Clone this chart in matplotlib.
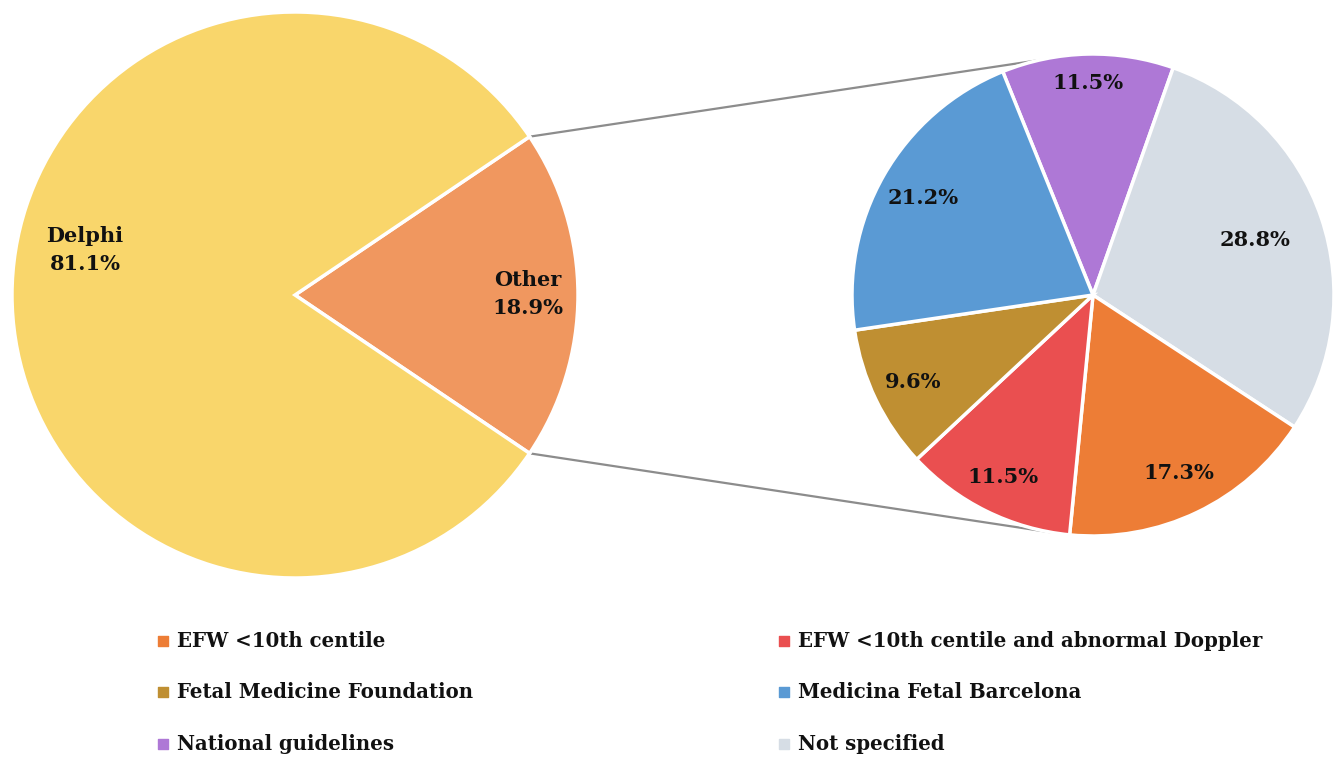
import matplotlib.pyplot as plt
import numpy as np

plt.rcParams['font.family'] = ['DejaVu Serif']
plt.rcParams['font.weight'] = 'bold'

# main pie
main_labels = ['Delphi', 'Other']
main_values = [81.1, 18.9]
main_colors = ['#F9D66B', '#F0975F']

# breakdown of "Other" (clockwise from top)
sub_labels = ['National guidelines', 'Not specified', 'EFW <10th centile',
              'EFW <10th centile and abnormal Doppler', 'Fetal Medicine Foundation',
              'Medicina Fetal Barcelona']
sub_values = [11.5, 28.8, 17.3, 11.5, 9.6, 21.2]
sub_colors = ['#AE78D6', '#D6DDE5', '#ED7D36', '#EA4F50', '#BF8F32', '#5A9AD4']

legend_order = ['EFW <10th centile', 'EFW <10th centile and abnormal Doppler',
                'Fetal Medicine Foundation', 'Medicina Fetal Barcelona',
                'National guidelines', 'Not specified']

W, H = 1340, 761
fig = plt.figure(figsize=(W / 100, H / 100), dpi=100)
ax = fig.add_axes([0, 0, 1, 1])

c1, r1 = (295, 466), 283
c2, r2 = (1093, 466), 241
FS = 15

other_ang = main_values[1] / sum(main_values) * 360
w1, _ = ax.pie(main_values[::-1], colors=main_colors[::-1], center=c1, radius=r1,
               startangle=other_ang / 2, counterclock=False,
               wedgeprops=dict(edgecolor='white', linewidth=2.5))

w2, _ = ax.pie(sub_values, colors=sub_colors, center=c2, radius=r2,
               startangle=112, counterclock=False,
               wedgeprops=dict(edgecolor='white', linewidth=2.5))

# percentage labels in the sub pie
dists = [0.88, 0.71, 0.82, 0.84, 0.83, 0.81]
for w, v, d in zip(w2, sub_values, dists):
    mid = np.deg2rad((w.theta1 + w.theta2) / 2)
    ax.text(c2[0] + d * r2 * np.cos(mid), c2[1] + d * r2 * np.sin(mid), f'{v}%',
            ha='center', va='center', fontsize=FS, fontweight='bold', color='#111111')

# main pie labels
ax.text(c1[0] - 210, c1[1] + 45, f'{main_labels[0]}\n{main_values[0]}%', ha='center',
        va='center', fontsize=FS, fontweight='bold', color='#111111', linespacing=1.45)
ax.text(c1[0] + 233, c1[1] + 1, f'{main_labels[1]}\n{main_values[1]}%', ha='center',
        va='center', fontsize=FS, fontweight='bold', color='#111111', linespacing=1.45)

# connector lines
wo = w1[0]
for a1, a2 in [(wo.theta2, 103), (wo.theta1, -99.5)]:
    a1, a2 = np.deg2rad(a1), np.deg2rad(a2)
    ax.plot([c1[0] + r1 * np.cos(a1), c2[0] + r2 * np.cos(a2)],
            [c1[1] + r1 * np.sin(a1), c2[1] + r2 * np.sin(a2)],
            color='#8C8C8C', lw=1.6, zorder=0)

# legend, two columns
col_x = [163, 784]
row_y = [120, 69, 17]
for i, name in enumerate(legend_order):
    x, y = col_x[i % 2], row_y[i // 2]
    ax.scatter([x], [y], marker='s', s=45, color=sub_colors[sub_labels.index(name)])
    ax.text(x + 14, y, name, ha='left', va='center', fontsize=14.2,
            fontweight='bold', color='#111111')

ax.set_xlim(0, W)
ax.set_ylim(0, H)
ax.set_aspect('equal')
ax.axis('off')

fig.savefig('out.png', dpi=100)
